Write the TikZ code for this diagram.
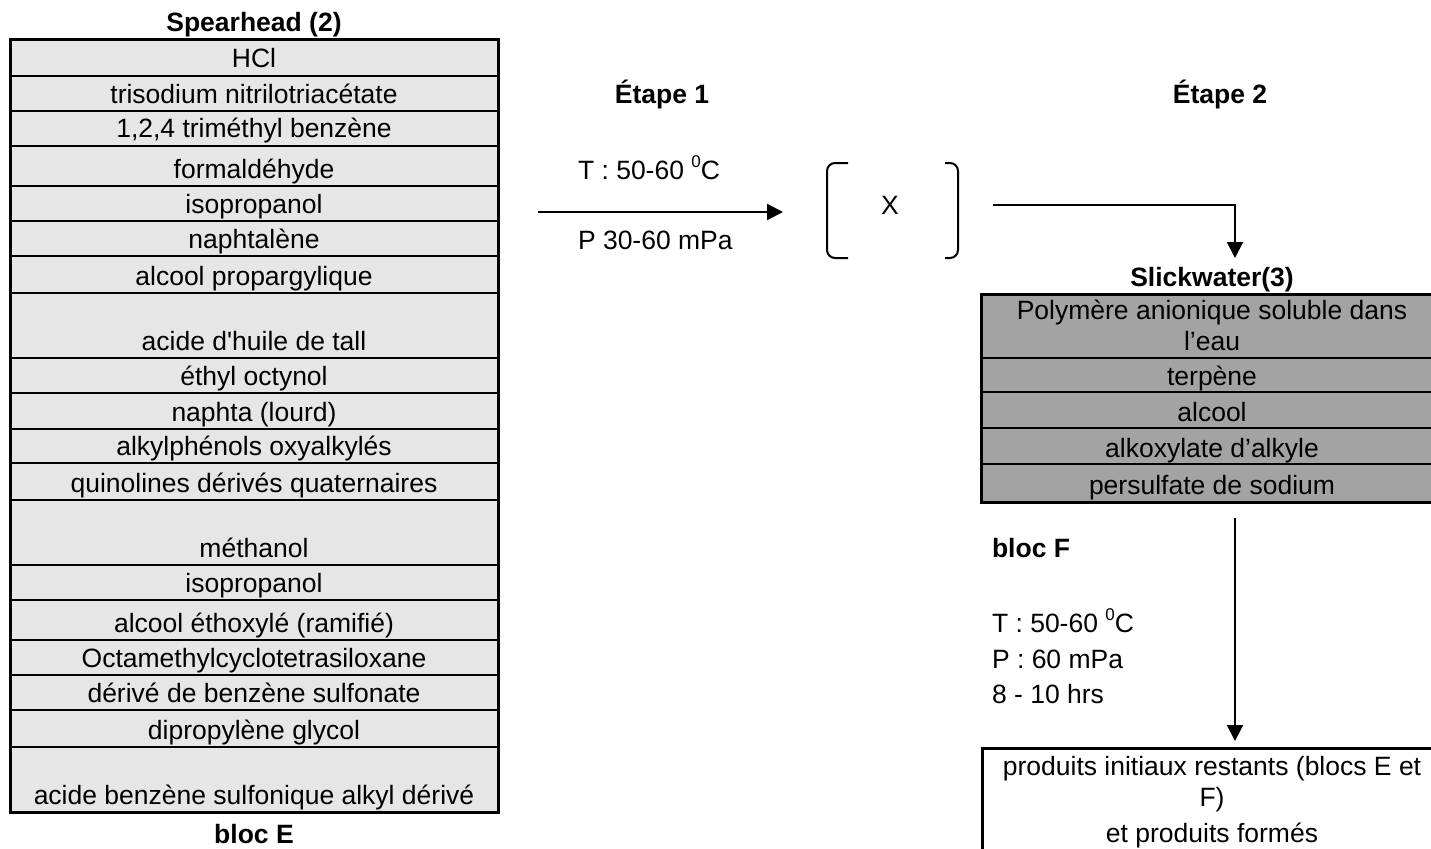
\documentclass[tikz,border=0pt]{standalone}
\usepackage{fontspec}
\newfontfamily\arial{Liberation Sans}
\usetikzlibrary{arrows.meta}
\definecolor{lightcell}{HTML}{E6E6E6}
\definecolor{darkcell}{HTML}{A3A3A3}
\newcommand{\degsup}{\raisebox{0.42em}{\fontsize{17}{17}\selectfont 0}}
\begin{document}
\begin{tikzpicture}[x=1pt,y=-1pt,
  every node/.style={inner sep=0pt, outer sep=0pt, font=\arial\fontsize{26.5}{31}\selectfont},
  celltext/.style={anchor=base},
  lefttext/.style={anchor=base west},
  titletext/.style={anchor=base, font=\arial\fontsize{26.5}{31}\selectfont\bfseries},
  outerline/.style={line width=3pt},
  innerline/.style={line width=2pt},
  arr/.style={line width=2pt, -{Triangle[length=16pt,width=16pt]}},
  brack/.style={line width=2pt, rounded corners=8pt},
  ]
\useasboundingbox (0,0) rectangle (1431,848);
\clip (0,0) rectangle (1431,848);
\fill[white] (0,0) rectangle (1431,848);

% ---------- left table (bloc E) ----------
\fill[lightcell] (10,40) rectangle (498,812);
\foreach \y in {76,111,146,186,221,256,293,358,393,429,463,500,565,600,640,675,710,747}
  \draw[innerline] (10,\y) -- (498,\y);
\draw[outerline] (10,40) rectangle (498,812);
\node[titletext] (spear) at (254,32) {Spearhead (2)};
\node[titletext] (blocE) at (254,843) {bloc E};
\foreach \y/\t [count=\i] in {
  68/{HCl},
  103/{trisodium nitrilotriacétate},
  138/{1,2,4 triméthyl benzène},
  178/{formaldéhyde},
  213/{isopropanol},
  248/{naphtalène},
  285/{alcool propargylique},
  350/{acide d'huile de tall},
  385/{éthyl octynol},
  421/{naphta (lourd)},
  455/{alkylphénols oxyalkylés},
  492/{quinolines dérivés quaternaires},
  557/{méthanol},
  592/{isopropanol},
  632/{alcool éthoxylé (ramifié)},
  667/{Octamethylcyclotetrasiloxane},
  702/{dérivé de benzène sulfonate},
  739/{dipropylène glycol},
  804/{acide benzène sulfonique alkyl dérivé}}
  \node[celltext] (e\i) at (254,\y) {\t};

% ---------- step 1 ----------
\node[titletext] (etape1) at (662,103) {Étape 1};
\node[titletext] (etape2) at (1220,103) {Étape 2};
\node[lefttext] (t1) at (578,179) {T : 50-60 \degsup C};
\node[lefttext] (p1) at (578,249) {P 30-60 mPa};
\coordinate (a1s) at (538,212);
\coordinate (a1e) at (783,212);
\draw[arr] (a1s) -- (a1e);

% ---------- intermediate X ----------
\node[celltext] (X) at (890,214) {X};
\draw[brack] (848,163) -- (827,163) -- (827,258) -- (848,258);
\draw[brack] (945,163) -- (958,163) -- (958,258) -- (945,258);
\coordinate (a2s) at (993,205);
\coordinate (a2e) at (1235,258);
\draw[arr] (a2s) -| (a2e);

% ---------- Slickwater table ----------
\node[titletext] (slick) at (1212,286) {Slickwater(3)};
\fill[darkcell] (981,294) rectangle (1445,502);
\foreach \y in {358,392,428,464}
  \draw[innerline] (981,\y) -- (1445,\y);
\draw[outerline] (1445,294) -- (981,294) -- (981,502) -- (1445,502);
\foreach \y/\t [count=\i] in {
  319/{Polymère anionique soluble dans},
  350/{l’eau},
  385/{terpène},
  421/{alcool},
  457/{alkoxylate d’alkyle},
  494/{persulfate de sodium}}
  \node[celltext] (s\i) at (1212,\y) {\t};

% ---------- bloc F ----------
\node[titletext, anchor=base west] (blocF) at (992,557) {bloc F};
\node[lefttext] (t2) at (992,632) {T : 50-60 \degsup C};
\node[lefttext] (p2) at (992,668) {P : 60 mPa};
\node[lefttext] (h2) at (992,703) {8 - 10 hrs};
\coordinate (a3s) at (1235,518);
\coordinate (a3e) at (1235,741);
\draw[arr] (a3s) -- (a3e);

% ---------- result box ----------
\draw[outerline] (1445,748) -- (982,748) -- (982,860);
\node[celltext] (r1) at (1212,775) {produits initiaux restants (blocs E et};
\node[celltext] (r2) at (1212,806) {F)};
\node[celltext] (r3) at (1212,842) {et produits formés};
\end{tikzpicture}
\end{document}
